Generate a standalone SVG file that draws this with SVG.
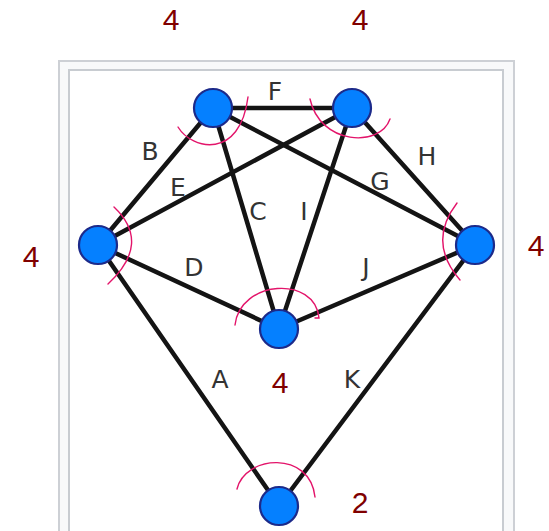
<svg xmlns="http://www.w3.org/2000/svg" width="549" height="531" viewBox="0 0 549 531">
<style>
.edge{stroke:#141414;stroke-width:4.5;stroke-linecap:round;fill:none}
.node{fill:#0580ff;stroke:#1c2a8a;stroke-width:2.2}
.arc{fill:none;stroke:#e3146a;stroke-width:1.4;stroke-linecap:round}
.el{font-family:"DejaVu Sans",sans-serif;font-size:25px;fill:#333;text-anchor:middle}
.dl{font-family:"Liberation Sans",Arial,sans-serif;font-size:30px;fill:#800000;text-anchor:middle}
</style>
<rect width="549" height="531" fill="#fff"/>
<g id="frame">
<rect x="59" y="61" width="455" height="500" fill="#f8f9fa" stroke="#cdd0d5" stroke-width="2"/>
<rect x="69" y="70" width="434" height="500" fill="#fff" stroke="#c8ccd1" stroke-width="2"/>
</g>
<g id="connectors">
<line class="edge" x1="213" y1="108" x2="352" y2="108"/>
<line class="edge" x1="213" y1="108" x2="98" y2="245"/>
<line class="edge" x1="213" y1="108" x2="279" y2="329"/>
<line class="edge" x1="213" y1="108" x2="475" y2="245"/>
<line class="edge" x1="98" y1="245" x2="352" y2="108"/>
<line class="edge" x1="352" y1="108" x2="279" y2="329"/>
<line class="edge" x1="352" y1="108" x2="475" y2="245"/>
<line class="edge" x1="98" y1="245" x2="279" y2="329"/>
<line class="edge" x1="279" y1="329" x2="475" y2="245"/>
<line class="edge" x1="98" y1="245" x2="279" y2="506"/>
<line class="edge" x1="475" y1="245" x2="279" y2="506"/>
</g>
<g id="edge-labels">
<text class="el" x="275" y="100">F</text>
<text class="el" x="150" y="160">B</text>
<text class="el" x="178" y="196">E</text>
<text class="el" x="258" y="220">C</text>
<text class="el" x="304" y="220">I</text>
<text class="el" x="380" y="190">G</text>
<text class="el" x="427" y="165">H</text>
<text class="el" x="194" y="276">D</text>
<text class="el" x="366" y="276">J</text>
<text class="el" x="220" y="388">A</text>
<text class="el" x="352" y="388">K</text>
</g>
<g id="arcs">
<path class="arc" d="M178,127 C192,150 240,160 248,97"/>
<path class="arc" d="M310,99 C320,145 380,148 390,119"/>
<path class="arc" d="M457,203 Q427,242 460,280"/>
<path class="arc" d="M114,207 Q152,243 108,284"/>
<path class="arc" d="M235,325 C240,280 315,275 319,318 L315,318"/>
<path class="arc" d="M237,489 C245,455 310,450 315,497"/>
</g>
<g id="node-tl"><circle class="node" cx="213" cy="108" r="19"/><text class="dl" x="171" y="30">4</text></g>
<g id="node-tr"><circle class="node" cx="352" cy="108" r="19"/><text class="dl" x="360" y="30">4</text></g>
<g id="node-l"><circle class="node" cx="98" cy="245" r="19"/><text class="dl" x="31" y="267">4</text></g>
<g id="node-r"><circle class="node" cx="475" cy="245" r="19"/><text class="dl" x="536" y="256">4</text></g>
<g id="node-m"><circle class="node" cx="279" cy="329" r="19"/><text class="dl" x="280" y="393">4</text></g>
<g id="node-b"><circle class="node" cx="279" cy="506" r="19"/><text class="dl" x="360" y="513">2</text></g>
</svg>
